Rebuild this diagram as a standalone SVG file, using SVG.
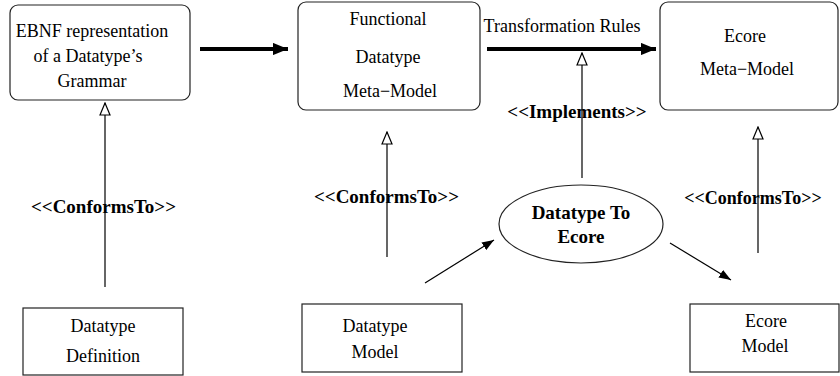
<svg xmlns="http://www.w3.org/2000/svg" width="840" height="376" viewBox="0 0 840 376">
  <style>
    text { font-family: "Liberation Serif", "Times New Roman", serif; font-size: 18px; fill: #000; text-anchor: middle; }
    .b { font-weight: bold; font-size: 19px; }
    .box { fill: #fff; stroke: #222; stroke-width: 1.2; }
    .thick { stroke: #000; stroke-width: 4; fill: none; }
    .thin { stroke: #000; stroke-width: 1.2; fill: none; }
    .gray { stroke: #666; stroke-width: 2; fill: none; }
  </style>
  <defs>
    <!-- filled head for the wide transformation arrows -->
    <marker id="bigHead" viewBox="0 0 10 10" refX="10" refY="5" markerWidth="3.8" markerHeight="3.1" markerUnits="strokeWidth" orient="auto" preserveAspectRatio="none">
      <path d="M0,0 L10,5 L0,10 z" fill="#000"/>
    </marker>
    <!-- filled head for thin flow arrows -->
    <marker id="head" viewBox="0 0 10 10" refX="10" refY="5" markerWidth="12" markerHeight="9" markerUnits="userSpaceOnUse" orient="auto" preserveAspectRatio="none">
      <path d="M0,0 L10,5 L0,10 z" fill="#000"/>
    </marker>
    <!-- open triangle for conformance / implementation links -->
    <marker id="hollow" viewBox="0 0 14 12" refX="13" refY="6" markerWidth="14" markerHeight="12" markerUnits="userSpaceOnUse" orient="auto">
      <path d="M1,1 L13,6 L1,11 z" fill="#fff" stroke="#000" stroke-width="1.2"/>
    </marker>
  </defs>

  <rect width="840" height="376" fill="#fff"/>

  <g id="connectors">
    <line class="thick" x1="200" y1="49" x2="288" y2="49" marker-end="url(#bigHead)"/>
    <line class="thick" x1="487" y1="49" x2="656" y2="49" marker-end="url(#bigHead)"/>
    <line class="thin" x1="582" y1="178" x2="582" y2="53" marker-end="url(#hollow)"/>
    <line class="gray" x1="105" y1="287" x2="105" y2="103" marker-end="url(#hollow)"/>
    <line class="thin" x1="387" y1="257" x2="387" y2="132" marker-end="url(#hollow)"/>
    <line class="thin" x1="758" y1="253" x2="758" y2="127" marker-end="url(#hollow)"/>
    <line class="thin" x1="425" y1="283" x2="494" y2="240" marker-end="url(#head)"/>
    <line class="thin" x1="670" y1="243" x2="731" y2="280" marker-end="url(#head)"/>
    <text x="562" y="32">Transformation Rules</text>
    <text class="b" x="577" y="118">&lt;&lt;Implements&gt;&gt;</text>
    <text class="b" x="103.5" y="213">&lt;&lt;ConformsTo&gt;&gt;</text>
    <text class="b" x="386.5" y="203">&lt;&lt;ConformsTo&gt;&gt;</text>
    <text class="b" x="753" y="204" style="font-size:18px">&lt;&lt;ConformsTo&gt;&gt;</text>
  </g>

  <g id="ebnf">
    <rect class="box" x="10" y="5" width="180" height="95" rx="8"/>
    <text x="92" y="37">EBNF representation</text>
    <text x="88" y="62">of a Datatype’s</text>
    <text x="92" y="87">Grammar</text>
  </g>

  <g id="functional-metamodel">
    <rect class="box" x="298" y="2" width="182" height="108" rx="8"/>
    <text x="388" y="25">Functional</text>
    <text x="388" y="63">Datatype</text>
    <text x="390" y="97">Meta−Model</text>
  </g>

  <g id="ecore-metamodel">
    <rect class="box" x="660" y="2" width="178" height="108" rx="8"/>
    <text x="745" y="42">Ecore</text>
    <text x="747" y="75">Meta−Model</text>
  </g>

  <g id="datatype-to-ecore">
    <ellipse class="box" cx="581" cy="224" rx="82" ry="39"/>
    <text class="b" x="581" y="219">Datatype To</text>
    <text class="b" x="581" y="243">Ecore</text>
  </g>

  <g id="datatype-definition">
    <rect class="box" x="23" y="308" width="160" height="67"/>
    <text x="103" y="332">Datatype</text>
    <text x="103" y="362">Definition</text>
  </g>

  <g id="datatype-model">
    <rect class="box" x="302" y="304" width="160" height="68"/>
    <text x="375" y="332">Datatype</text>
    <text x="375" y="358">Model</text>
  </g>

  <g id="ecore-model">
    <rect class="box" x="690" y="304" width="149" height="68"/>
    <text x="766" y="327">Ecore</text>
    <text x="765" y="352">Model</text>
  </g>
</svg>
